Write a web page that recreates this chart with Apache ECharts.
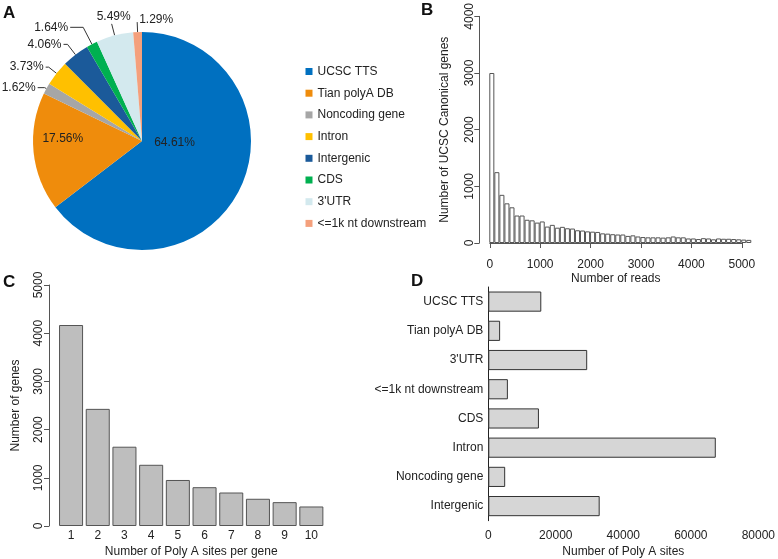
<!DOCTYPE html>
<html>
<head>
<meta charset="utf-8">
<script src="https://cdn.jsdelivr.net/npm/echarts@6/dist/echarts.min.js"></script>
<style>
html, body { margin: 0; padding: 0; background: #fff; }
#chart { width: 778px; height: 559px; }
</style>
</head>
<body>
<div id="chart"></div>
<script>
// panel A - share of poly A sites by annotation
const pieNames = ['UCSC TTS', 'Tian polyA DB', 'Noncoding gene', 'Intron', 'Intergenic', 'CDS', "3'UTR", '<=1k nt downstream'];
const piePercents = [64.61, 17.56, 1.62, 3.73, 4.06, 1.64, 5.49, 1.29];
const pieColors = ['#0070c0', '#ef8c0c', '#a6a6a6', '#ffc000', '#1b5a9a', '#00b050', '#d3e9ee', '#f4a07c'];

// panel B - histogram, bins of 100 reads
const readBinCounts = [3000, 1250, 850, 700, 630, 485, 485, 410, 400, 360,
  380, 290, 320, 270, 285, 260, 255, 225, 220, 205,
  200, 195, 170, 165, 155, 150, 150, 125, 135, 115,
  105, 100, 100, 100, 95, 100, 115, 100, 100, 80,
  80, 70, 85, 80, 65, 80, 75, 75, 70, 65,
  60, 55];
const readBinStarts = readBinCounts.map((v, i) => String(i * 100));

// panel C
const sitesPerGene = ['1', '2', '3', '4', '5', '6', '7', '8', '9', '10'];
const geneCounts = [4170, 2430, 1645, 1270, 955, 805, 695, 565, 495, 405];

// panel D
const siteCategories = ['UCSC TTS', 'Tian polyA DB', "3'UTR", '<=1k nt downstream', 'CDS', 'Intron', 'Noncoding gene', 'Intergenic'];
const siteCounts = [15700, 3500, 29300, 5800, 15000, 67400, 5000, 33000];

const font = "'Liberation Sans', Arial, sans-serif";
const ink = '#222';
let chart = echarts.init(document.getElementById('chart'));

const txt = { fontFamily: font, fontSize: 12, color: ink };
const plain = v => String(v);

// leader line lengths for the small slices (inside labels for the two big ones)
const lineLen = [0, 0, 2, 10, 13, 19, 12, 10];
const lineLen2 = [0, 0, 7, 3, 4, 13, 0, 0];

let pieData = pieNames.map((n, i) => {
  let d = { name: n, value: piePercents[i], itemStyle: { color: pieColors[i] } };
  if (i === 0) d.label = { position: 'inside', offset: [-19, -24] };
  else if (i === 1) d.label = { position: 'inside', offset: [-22, -8] };
  else d.labelLine = { length: lineLen[i], length2: lineLen2[i] };
  return d;
});

let option = {
  animation: false,
  textStyle: { fontFamily: font },
  title: [
    { text: 'A', left: 3, top: 5 },
    { text: 'B', left: 421, top: 2 },
    { text: 'C', left: 3, top: 274 },
    { text: 'D', left: 411, top: 273 }
  ].map(t => Object.assign(t, { padding: 0, textStyle: { fontFamily: font, fontSize: 17, fontWeight: 'bold', color: '#111' } })),
  legend: {
    data: pieNames,
    orient: 'vertical',
    left: 300.5,
    top: 60.5,
    icon: 'rect',
    itemWidth: 7,
    itemHeight: 7,
    itemGap: 9.7,
    textStyle: txt
  },
  grid: [
    { left: 489.3, top: 15, width: 262, height: 228 },
    { left: 489.8, top: 15, width: 252, height: 228 },
    { left: 57.7, top: 285, width: 267, height: 242 },
    { left: 488.3, top: 287, width: 274, height: 233.7 }
  ],
  xAxis: [
    { gridIndex: 0, type: 'category', data: readBinStarts, show: false },
    {
      gridIndex: 1, type: 'value', min: 0, max: 5000, interval: 1000, offset: 9,
      name: 'Number of reads', nameLocation: 'middle', nameGap: 21, nameTextStyle: txt,
      axisLine: { lineStyle: { color: '#555' } },
      axisTick: { length: 5, lineStyle: { color: '#555' } },
      axisLabel: Object.assign({ margin: 7, formatter: plain }, txt),
      splitLine: { show: false }
    },
    {
      gridIndex: 2, type: 'category', data: sitesPerGene,
      name: 'Number of Poly A sites per gene', nameLocation: 'middle', nameGap: 20, nameTextStyle: txt,
      axisLine: { show: false }, axisTick: { show: false },
      axisLabel: Object.assign({ margin: 4 }, txt)
    },
    {
      gridIndex: 3, type: 'value', min: 0, max: 80000, interval: 20000,
      name: 'Number of Poly A sites', nameLocation: 'middle', nameGap: 25, nameTextStyle: txt,
      axisLine: { lineStyle: { color: '#222' } },
      axisTick: { length: 7, lineStyle: { color: '#222' } },
      axisLabel: Object.assign({ margin: 9, formatter: plain }, txt),
      splitLine: { show: false }
    }
  ],
  yAxis: [
    {
      gridIndex: 0, type: 'value', min: 0, max: 4000, interval: 1000, offset: 10,
      name: 'Number of UCSC Canonical genes', nameLocation: 'middle', nameGap: 29, nameTextStyle: txt,
      axisLine: { show: true, lineStyle: { color: '#555' } },
      axisTick: { show: true, length: 5, lineStyle: { color: '#555' } },
      axisLabel: Object.assign({ rotate: 90, margin: 4, formatter: plain }, txt),
      splitLine: { show: false }
    },
    { gridIndex: 1, type: 'value', min: 0, max: 4000, show: false },
    {
      gridIndex: 2, type: 'value', min: 0, max: 5000, interval: 1000, offset: 8.7,
      name: 'Number of genes', nameLocation: 'middle', nameGap: 27, nameTextStyle: txt,
      axisLine: { show: true, lineStyle: { color: '#555' } },
      axisTick: { show: true, length: 5, lineStyle: { color: '#555' } },
      axisLabel: Object.assign({ rotate: 90, margin: 4, formatter: plain }, txt),
      splitLine: { show: false }
    },
    {
      gridIndex: 3, type: 'category', data: siteCategories, inverse: true,
      axisLine: { lineStyle: { color: '#222' } },
      axisTick: { length: 4, alignWithLabel: true, lineStyle: { color: '#222' } },
      axisLabel: Object.assign({ margin: 5 }, txt)
    }
  ],
  series: [
    {
      type: 'pie',
      center: [142, 141],
      radius: 109,
      startAngle: 90,
      clockwise: true,
      avoidLabelOverlap: false,
      data: pieData,
      label: {
        formatter: '{c}%', fontFamily: font, fontSize: 12, color: ink,
        distanceToLabelLine: 2, bleedMargin: 0, overflow: 'none'
      },
      labelLine: { length: 6, length2: 8, lineStyle: { color: '#333', width: 1 } },
      // 3'UTR label sits on top of its leader, the last one to its right
      labelLayout: function (p) {
        const pts = p.labelLinePoints;
        if (!pts) return {};
        const end = pts[pts.length - 1];
        if (p.dataIndex === 6) return { x: end[0] + 2, y: end[1] - 1, align: 'center', verticalAlign: 'bottom', labelLinePoints: pts };
        if (p.dataIndex === 7) return { x: end[0] + 2, y: end[1] - 2, align: 'left', verticalAlign: 'middle', labelLinePoints: pts };
        return {};
      },
      emphasis: { disabled: true }
    },
    {
      type: 'bar', xAxisIndex: 0, yAxisIndex: 0, data: readBinCounts,
      barCategoryGap: 0,
      itemStyle: { color: '#fff', borderColor: '#555', borderWidth: 1 }
    },
    {
      type: 'bar', xAxisIndex: 2, yAxisIndex: 2, data: geneCounts,
      barCategoryGap: '10%',
      itemStyle: { color: '#bebebe', borderColor: '#555', borderWidth: 1 }
    },
    {
      type: 'bar', xAxisIndex: 3, yAxisIndex: 3, data: siteCounts,
      barCategoryGap: '31%',
      itemStyle: { color: '#d6d6d6', borderColor: '#333', borderWidth: 1 }
    }
  ]
};
chart.setOption(option);
window.addEventListener('resize', () => chart.resize());
</script>
</body>
</html>
